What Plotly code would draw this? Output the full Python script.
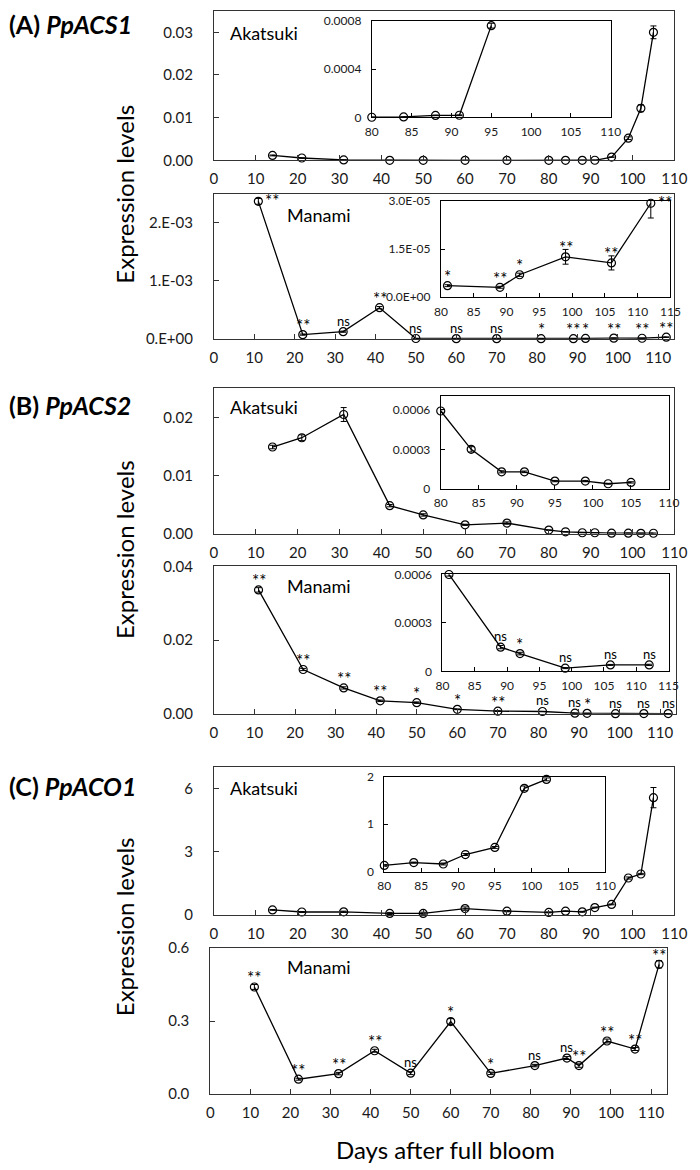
import plotly.graph_objects as go

W, H = 700, 1170
FONT = "Lato"

# ---------------- data ----------------
days_akatsuki = [14, 21, 31, 42, 50, 60, 70, 80, 84, 88, 91, 95, 99, 102, 105]
days_manami = [11, 22, 32, 41, 50, 60, 70, 81, 89, 92, 99, 106, 112]

# (A) PpACS1
acs1_akatsuki = [0.00115, 0.00055, 0.0001, 0.00001, 0.00001, 0.00001, 0.00001,
                 0.0000005, 0.000003, 0.000016, 0.000017, 0.00076, 0.0052, 0.0122, 0.0300]
acs1_akatsuki_err = [0.0001, 0.00005, 0.00003, 0.000005, 0.000005, 0.000005, 0.000005,
                     0.0000002, 0.000001, 0.000002, 0.000003, 0.00002, 0.0003, 0.0008, 0.0015]
acs1_manami = [0.00237, 0.000073, 0.000124, 0.000537, 0.000006, 0.000004, 0.000004,
               0.0000036, 0.0000031, 0.000007, 0.0000126, 0.0000107, 0.0000293]
acs1_manami_err = [0.00005, 0.00001, 0.00001, 0.00002, 0.000001, 0.000001, 0.000001,
                   0.0000003, 0.0000003, 0.0000005, 0.0000023, 0.0000022, 0.0000046]
acs1_manami_sig = ["**", "**", "ns", "**", "ns", "ns", "ns", "*", "**", "*", "**", "**", "**"]

# (B) PpACS2
acs2_akatsuki = [0.0149, 0.0165, 0.0205, 0.0048, 0.0032, 0.0015, 0.0018,
                 0.00059, 0.0003, 0.00013, 0.00013, 0.00006, 0.00006, 0.00004, 0.00005]
acs2_akatsuki_err = [0.0003, 0.0005, 0.0012, 0.0002, 0.0002, 0.0001, 0.0002,
                     0.00001, 0.00002, 0.000008, 0.000006, 0.000005, 0.000005, 0.000003, 0.000005]
acs2_manami = [0.0336, 0.0120, 0.0070, 0.0035, 0.0030, 0.0012, 0.0007,
               0.0006, 0.00015, 0.00011, 0.00002, 0.00004, 0.00004]
acs2_manami_err = [0.0006, 0.0003, 0.0003, 0.0002, 0.0002, 0.0001, 0.0001,
                   0.00001, 0.00001, 0.000008, 0.000003, 0.000003, 0.000004]
acs2_manami_sig = ["**", "**", "**", "**", "*", "*", "**", "ns", "ns", "*", "ns", "ns", "ns"]

# (C) PpACO1
aco1_akatsuki = [0.25, 0.15, 0.16, 0.08, 0.08, 0.31, 0.19, 0.13, 0.19, 0.16, 0.36, 0.51, 1.76, 1.95, 5.57]
aco1_akatsuki_err = [0.02, 0.02, 0.03, 0.05, 0.06, 0.08, 0.03, 0.02, 0.01, 0.02, 0.02, 0.02, 0.05, 0.03, 0.48]
aco1_manami = [0.44, 0.061, 0.084, 0.178, 0.086, 0.298, 0.085, 0.117, 0.148, 0.117, 0.218, 0.185, 0.533]
aco1_manami_err = [0.01, 0.004, 0.005, 0.006, 0.006, 0.012, 0.005, 0.005, 0.006, 0.007, 0.008, 0.006, 0.015]
aco1_manami_sig = ["**", "**", "**", "**", "ns", "*", "*", "ns", "ns", "**", "**", "**", "**"]

# tick labels
x_ticks_main = [0, 10, 20, 30, 40, 50, 60, 70, 80, 90, 100, 110]
x_ticks_inset_110 = [80, 85, 90, 95, 100, 105, 110]
x_ticks_inset_115 = [80, 85, 90, 95, 100, 105, 110, 115]

acs1_ak_yvals = [0, 0.01, 0.02, 0.03]
acs1_ak_ytext = ["0.00", "0.01", "0.02", "0.03"]
acs1_ak_in_yvals = [0, 0.0004, 0.0008]
acs1_ak_in_ytext = ["0", "0.0004", "0.0008"]
acs1_ma_yvals = [0, 0.001, 0.002]
acs1_ma_ytext = ["0.E+00", "1.E-03", "2.E-03"]
acs1_ma_in_yvals = [0, 0.000015, 0.00003]
acs1_ma_in_ytext = ["0.0E+00", "1.5E-05", "3.0E-05"]

acs2_ak_yvals = [0, 0.01, 0.02]
acs2_ak_ytext = ["0.00", "0.01", "0.02"]
acs2_ak_in_yvals = [0, 0.0003, 0.0006]
acs2_ak_in_ytext = ["0", "0.0003", "0.0006"]
acs2_ma_yvals = [0, 0.02, 0.04]
acs2_ma_ytext = ["0.00", "0.02", "0.04"]
acs2_ma_in_yvals = [0, 0.0003, 0.0006]
acs2_ma_in_ytext = ["0", "0.0003", "0.0006"]

aco1_ak_yvals = [0, 3, 6]
aco1_ak_ytext = ["0", "3", "6"]
aco1_ak_in_yvals = [0, 1, 2]
aco1_ak_in_ytext = ["0", "1", "2"]
aco1_ma_yvals = [0, 0.3, 0.6]
aco1_ma_ytext = ["0.0", "0.3", "0.6"]

# ---------------- helpers ----------------
fig = go.Figure()
annotations = []
count = [0]


def px2x(p):
    return p / W


def px2y(p):
    return 1 - p / H


def add_subplot(box, xrange, xtickvals, yrange, ytickvals, yticktext, inset):
    count[0] += 1
    n = count[0]
    sfx = "" if n == 1 else str(n)
    left, top, right, bottom = box
    lc = "black" if inset else "#333333"
    common = dict(showline=True, mirror=True, linecolor=lc, linewidth=1,
                  ticks="inside", ticklen=4 if inset else 5, tickwidth=1, tickcolor=lc,
                  showgrid=False, zeroline=False, fixedrange=True,
                  tickfont=dict(family=FONT, size=12 if inset else 15, color="#1a1a1a"))
    fig.update_layout(**{
        "xaxis" + sfx: dict(domain=[px2x(left), px2x(right)], range=xrange, tickvals=xtickvals,
                            anchor="y" + sfx, ticklabelstandoff=3 if inset else 5, **common),
        "yaxis" + sfx: dict(domain=[px2y(bottom), px2y(top)], range=yrange, tickvals=ytickvals,
                            ticktext=yticktext, anchor="x" + sfx,
                            ticklabelstandoff=7 if inset else 17, **common),
    })
    return "x" + sfx, "y" + sfx


def add_series(xa, ya, days, vals, errs):
    fig.add_trace(go.Scatter(
        x=days, y=vals, xaxis=xa, yaxis=ya, mode="lines+markers", showlegend=False,
        cliponaxis=False,
        line=dict(color="black", width=1.3),
        marker=dict(symbol="circle-open", size=8, color="black", line=dict(width=1.2)),
        error_y=dict(type="data", array=errs, visible=True, color="black", thickness=1, width=3),
    ))


def add_sig(xa, ya, days, vals, sigs, ymax, inset):
    for d, v, s in zip(days, vals, sigs):
        frac = v / ymax
        if inset and frac > 0.99:
            continue
        star = "*" in s
        font = dict(family=FONT, size=17 if star else 13, color="black")
        if frac > 0.92:
            annotations.append(dict(x=d, y=v, xref=xa, yref=ya, text=s, showarrow=False,
                                    xanchor="left", yanchor="middle", xshift=5, yshift=1,
                                    font=font))
        else:
            annotations.append(dict(x=d, y=v, xref=xa, yref=ya, text=s, showarrow=False,
                                    xanchor="center", yanchor="middle",
                                    yshift=9 if star else 11, font=font))


def inset_subset(days, vals, errs, sigs, ymax):
    keep = [i for i, (d, v) in enumerate(zip(days, vals)) if d >= 80 and v <= ymax * 1.02]
    out = ([days[i] for i in keep], [vals[i] for i in keep], [errs[i] for i in keep])
    if sigs is not None:
        out = out + ([sigs[i] for i in keep],)
    return out


def paper_text(text, xpx, ypx, size, xanchor="left", angle=0):
    annotations.append(dict(x=px2x(xpx), y=px2y(ypx), xref="paper", yref="paper", text=text,
                            showarrow=False, xanchor=xanchor, yanchor="middle", textangle=angle,
                            font=dict(family=FONT, size=size, color="black")))


# ---------------- panel A ----------------
xa, ya = add_subplot((213, 1, 687, 152.7), [0, 110], x_ticks_main, [0, 0.035],
                     acs1_ak_yvals, acs1_ak_ytext, False)
add_series(xa, ya, days_akatsuki, acs1_akatsuki, acs1_akatsuki_err)
xa, ya = add_subplot((375.5, 11, 621.5, 109), [80, 110], x_ticks_inset_110, [0, 0.0008],
                     acs1_ak_in_yvals, acs1_ak_in_ytext, True)
d, v, e = inset_subset(days_akatsuki, acs1_akatsuki, acs1_akatsuki_err, None, 0.0008)
add_series(xa, ya, d, v, e)

xa, ya = add_subplot((213, 186.7, 687, 334), [0, 114], x_ticks_main, [0, 0.0025],
                     acs1_ma_yvals, acs1_ma_ytext, False)
add_series(xa, ya, days_manami, acs1_manami, acs1_manami_err)
add_sig(xa, ya, days_manami, acs1_manami, acs1_manami_sig, 0.0025, False)
xa, ya = add_subplot((446.7, 194, 683, 291.7), [80, 115], x_ticks_inset_115, [0, 0.00003],
                     acs1_ma_in_yvals, acs1_ma_in_ytext, True)
d, v, e, s = inset_subset(days_manami, acs1_manami, acs1_manami_err, acs1_manami_sig, 0.00003)
add_series(xa, ya, d, v, e)
add_sig(xa, ya, d, v, s, 0.00003, True)

# ---------------- panel B ----------------
xa, ya = add_subplot((213, 384.3, 687, 531.7), [0, 110], x_ticks_main, [0, 0.025],
                     acs2_ak_yvals, acs2_ak_ytext, False)
add_series(xa, ya, days_akatsuki, acs2_akatsuki, acs2_akatsuki_err)
xa, ya = add_subplot((446.5, 392.5, 681.5, 486.5), [80, 110], x_ticks_inset_110, [0, 0.0007],
                     acs2_ak_in_yvals, acs2_ak_in_ytext, True)
d, v, e = inset_subset(days_akatsuki, acs2_akatsuki, acs2_akatsuki_err, None, 0.0007)
add_series(xa, ya, d, v, e)

xa, ya = add_subplot((213, 565, 689, 714.7), [0, 114], x_ticks_main, [0, 0.04],
                     acs2_ma_yvals, acs2_ma_ytext, False)
add_series(xa, ya, days_manami, acs2_manami, acs2_manami_err)
add_sig(xa, ya, days_manami, acs2_manami, acs2_manami_sig, 0.04, False)
xa, ya = add_subplot((448.3, 573.3, 681, 671.7), [80, 115], x_ticks_inset_115, [0, 0.0006],
                     acs2_ma_in_yvals, acs2_ma_in_ytext, True)
d, v, e, s = inset_subset(days_manami, acs2_manami, acs2_manami_err, acs2_manami_sig, 0.0006)
add_series(xa, ya, d, v, e)
add_sig(xa, ya, d, v, s, 0.0006, True)

# ---------------- panel C ----------------
xa, ya = add_subplot((213, 769.3, 687, 919.3), [0, 110], x_ticks_main, [0, 7],
                     aco1_ak_yvals, aco1_ak_ytext, False)
add_series(xa, ya, days_akatsuki, aco1_akatsuki, aco1_akatsuki_err)
xa, ya = add_subplot((388.4, 779, 616, 875), [80, 110], x_ticks_inset_110, [0, 2],
                     aco1_ak_in_yvals, aco1_ak_in_ytext, True)
d, v, e = inset_subset(days_akatsuki, aco1_akatsuki, aco1_akatsuki_err, None, 2)
add_series(xa, ya, d, v, e)

xa, ya = add_subplot((209.3, 952.7, 679.5, 1101), [0, 114], x_ticks_main, [0, 0.6],
                     aco1_ma_yvals, aco1_ma_ytext, False)
add_series(xa, ya, days_manami, aco1_manami, aco1_manami_err)
add_sig(xa, ya, days_manami, aco1_manami, aco1_manami_sig, 0.6, False)

# ---------------- texts ----------------
paper_text("<b>(A) <i>PpACS1</i></b>", 0, 14, 25)
paper_text("<b>(B) <i>PpACS2</i></b>", 0, 401, 25)
paper_text("<b>(C) <i>PpACO1</i></b>", 0, 788, 25)

for name, xp, yp in [("Akatsuki", 228, 23), ("Manami", 286, 208),
                     ("Akatsuki", 228, 403), ("Manami", 286, 585),
                     ("Akatsuki", 228, 790), ("Manami", 286, 972)]:
    paper_text(name, xp, yp, 18)

for yp in [187, 548, 931]:
    paper_text("Expression levels", 121, yp, 24, xanchor="center", angle=-90)

paper_text("Days after full bloom", 451, 1157, 24, xanchor="center")

fig.update_layout(width=W, height=H, margin=dict(l=0, r=0, t=0, b=0),
                  paper_bgcolor="white", plot_bgcolor="rgba(0,0,0,0)",
                  annotations=annotations, font=dict(family=FONT))

fig.write_html("out.html", config={"displayModeBar": False},
               post_script="document.body.style.margin='0';document.body.style.padding='0';")
